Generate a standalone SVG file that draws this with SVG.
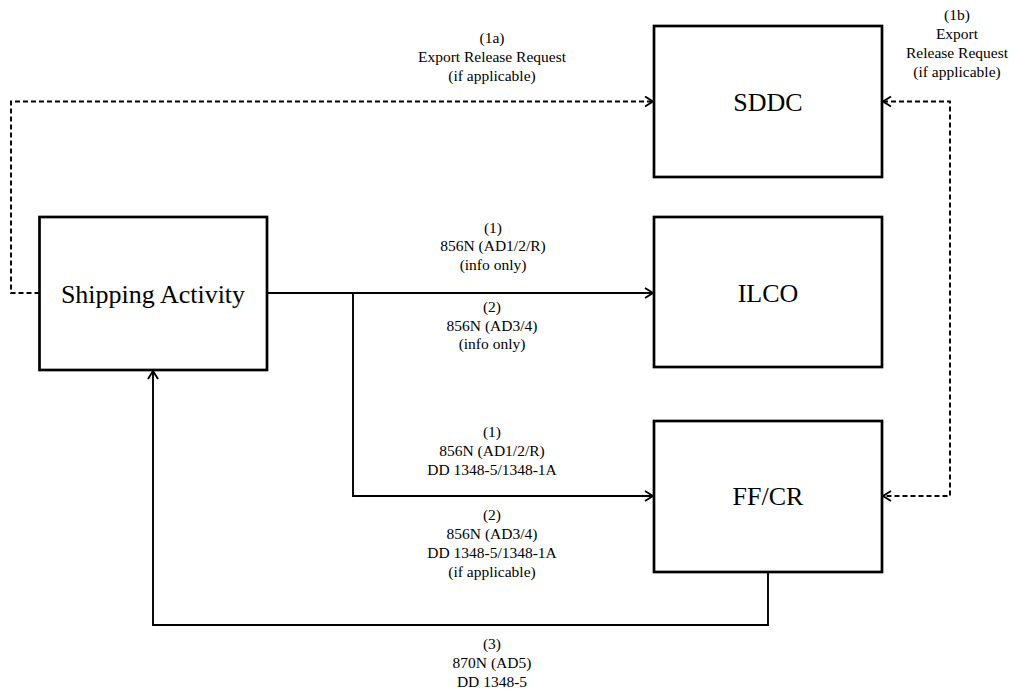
<svg xmlns="http://www.w3.org/2000/svg" width="1018" height="691" viewBox="0 0 1018 691">
<style>
.box{fill:#fff;stroke:#000;stroke-width:2.7}
text{font-family:'Liberation Serif','DejaVu Serif','Times New Roman',serif;fill:#000;text-anchor:middle}
.nt{font-size:26px}
.lb{font-size:15.5px}
.ln{fill:none;stroke:#000;stroke-width:1.9}
.dl{fill:none;stroke:#000;stroke-width:1.9;stroke-dasharray:5,3}
</style>
<defs>
<marker id="ah" markerUnits="userSpaceOnUse" markerWidth="12" markerHeight="14" refX="9" refY="6" orient="auto">
<path d="M1,1 L9,6 L1,11" fill="none" stroke="#000" stroke-width="1.9"/>
</marker>
<marker id="ahs" markerUnits="userSpaceOnUse" markerWidth="12" markerHeight="14" refX="9" refY="6" orient="auto-start-reverse">
<path d="M1,1 L9,6 L1,11" fill="none" stroke="#000" stroke-width="1.9"/>
</marker>
</defs>
<rect width="1018" height="691" fill="#fff"/>
<g id="connectors">
<path class="dl" d="M39.5,293 H11 V101.5 H653" marker-end="url(#ah)"/>
<path class="dl" d="M883,101.5 H950 V496 H883" marker-start="url(#ahs)" marker-end="url(#ah)"/>
<path class="ln" d="M267,293 H653" marker-end="url(#ah)"/>
<path class="ln" d="M353,293 V496 H653" marker-end="url(#ah)"/>
<path class="ln" d="M768,572 V625 H153 V371" marker-end="url(#ah)"/>
</g>
<g id="labels">
<text class="lb" x="492" y="43">(1a)</text>
<text class="lb" x="492" y="62">Export Release Request</text>
<text class="lb" x="492" y="81">(if applicable)</text>
<text class="lb" x="957" y="20">(1b)</text>
<text class="lb" x="957" y="39">Export</text>
<text class="lb" x="957" y="58">Release Request</text>
<text class="lb" x="957" y="77">(if applicable)</text>
<text class="lb" x="493" y="233">(1)</text>
<text class="lb" x="493" y="251">856N (AD1/2/R)</text>
<text class="lb" x="493" y="270">(info only)</text>
<text class="lb" x="492" y="312">(2)</text>
<text class="lb" x="492" y="331">856N (AD3/4)</text>
<text class="lb" x="492" y="349">(info only)</text>
<text class="lb" x="492" y="437">(1)</text>
<text class="lb" x="492" y="456">856N (AD1/2/R)</text>
<text class="lb" x="492" y="475">DD 1348-5/1348-1A</text>
<text class="lb" x="492" y="520">(2)</text>
<text class="lb" x="492" y="539">856N (AD3/4)</text>
<text class="lb" x="492" y="558">DD 1348-5/1348-1A</text>
<text class="lb" x="492" y="577">(if applicable)</text>
<text class="lb" x="492" y="649">(3)</text>
<text class="lb" x="492" y="668">870N (AD5)</text>
<text class="lb" x="492" y="687">DD 1348-5</text>
</g>
<g id="node-shipping">
<rect class="box" x="39.5" y="217" width="227.5" height="153"/>
<text class="nt" x="153" y="303">Shipping Activity</text>
</g>
<g id="node-sddc">
<rect class="box" x="654" y="26" width="228" height="151"/>
<text class="nt" x="768" y="111">SDDC</text>
</g>
<g id="node-ilco">
<rect class="box" x="654" y="217" width="228" height="150"/>
<text class="nt" x="768" y="302">ILCO</text>
</g>
<g id="node-ffcr">
<rect class="box" x="654" y="421" width="228" height="151"/>
<text class="nt" x="768" y="505">FF/CR</text>
</g>
</svg>
